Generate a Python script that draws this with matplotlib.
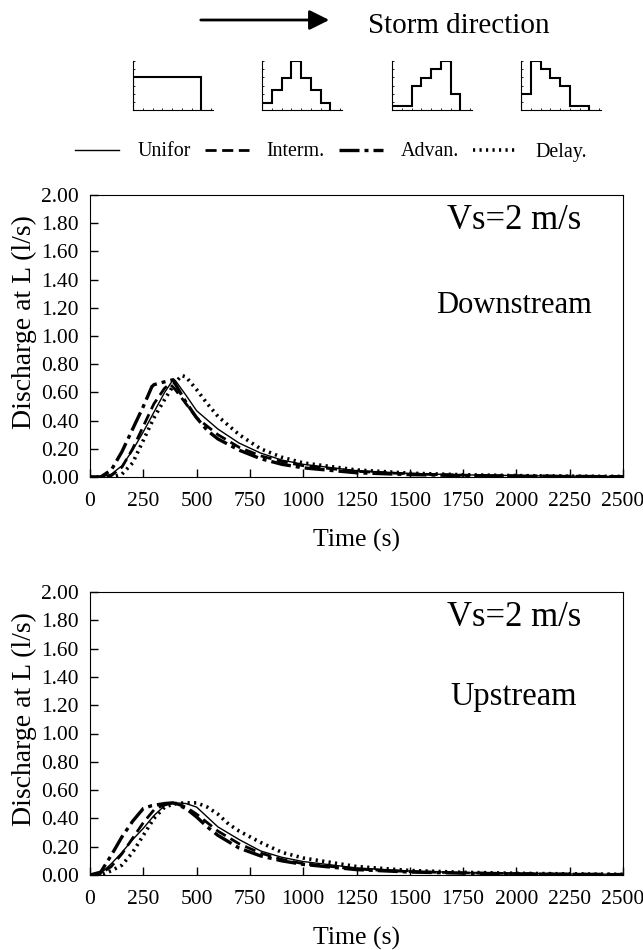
import matplotlib
matplotlib.use("Agg")
import matplotlib.pyplot as plt
import numpy as np

plt.rcParams['font.family'] = ['Liberation Serif', 'DejaVu Serif']

# hyetograph shapes shown in the header (7 intervals)
rain_uniform = [4.0, 4.0, 4.0, 4.0, 4.0, 4.0, 4.0]
rain_interm = [0.8, 2.5, 3.9, 6.0, 3.9, 2.5, 0.8]
rain_advan = [0.5, 0.5, 3.0, 3.9, 5.0, 6.0, 2.0]
rain_delay = [2.0, 6.0, 5.0, 3.9, 3.0, 0.5, 0.5]

labels = ["Unifor", "Interm.", "Advan.", "Delay."]

# downstream panel
t_dn_unif = [0, 50, 100, 150, 200, 250, 300, 350, 390, 400, 450, 500, 600, 700, 800, 900, 1000, 1250, 1500, 1750, 2000, 2250, 2500]
q_dn_unif = [0, 0, 0.02, 0.08, 0.19, 0.32, 0.46, 0.60, 0.69, 0.685, 0.58, 0.47, 0.34, 0.24, 0.17, 0.12, 0.09, 0.045, 0.025, 0.015, 0.01, 0.006, 0.004]
t_dn_int = [0, 50, 100, 150, 200, 250, 300, 350, 375, 400, 450, 500, 600, 700, 800, 900, 1000, 1250, 1500, 1750, 2000, 2250, 2500]
q_dn_int = [0, 0, 0.01, 0.07, 0.20, 0.36, 0.52, 0.63, 0.66, 0.62, 0.52, 0.42, 0.30, 0.21, 0.15, 0.11, 0.08, 0.04, 0.022, 0.013, 0.008, 0.005, 0.003]
t_dn_adv = [0, 50, 100, 150, 200, 250, 290, 300, 350, 390, 400, 450, 500, 550, 600, 700, 800, 900, 1000, 1250, 1500, 1750, 2000, 2250, 2500]
q_dn_adv = [0, 0, 0.05, 0.18, 0.34, 0.50, 0.64, 0.655, 0.675, 0.69, 0.66, 0.53, 0.42, 0.33, 0.27, 0.19, 0.13, 0.09, 0.065, 0.03, 0.017, 0.01, 0.006, 0.004, 0.002]
t_dn_del = [0, 50, 100, 150, 200, 250, 300, 350, 400, 430, 450, 500, 550, 600, 700, 800, 900, 1000, 1250, 1500, 1750, 2000, 2250, 2500]
q_dn_del = [0, 0, 0, 0.02, 0.10, 0.26, 0.42, 0.55, 0.67, 0.72, 0.71, 0.62, 0.52, 0.43, 0.30, 0.20, 0.14, 0.10, 0.05, 0.027, 0.016, 0.01, 0.006, 0.004]

# upstream panel
t_up_unif = [0, 50, 100, 150, 200, 250, 300, 350, 400, 450, 500, 550, 600, 700, 800, 900, 1000, 1250, 1500, 1750, 2000, 2250, 2500]
q_up_unif = [0, 0.01, 0.08, 0.16, 0.25, 0.33, 0.42, 0.49, 0.51, 0.505, 0.48, 0.41, 0.34, 0.25, 0.17, 0.125, 0.095, 0.05, 0.028, 0.017, 0.011, 0.007, 0.005]
t_up_int = [0, 50, 100, 150, 200, 250, 300, 350, 380, 400, 450, 500, 550, 600, 700, 800, 900, 1000, 1250, 1500, 1750, 2000, 2250, 2500]
q_up_int = [0, 0.01, 0.06, 0.15, 0.26, 0.37, 0.46, 0.50, 0.51, 0.505, 0.48, 0.43, 0.37, 0.31, 0.22, 0.155, 0.11, 0.08, 0.042, 0.024, 0.015, 0.01, 0.006, 0.004]
t_up_adv = [0, 50, 100, 150, 200, 250, 290, 350, 390, 450, 500, 550, 600, 700, 800, 900, 1000, 1250, 1500, 1750, 2000, 2250, 2500]
q_up_adv = [0, 0.02, 0.14, 0.27, 0.38, 0.47, 0.49, 0.505, 0.51, 0.47, 0.41, 0.34, 0.28, 0.19, 0.135, 0.10, 0.075, 0.038, 0.021, 0.013, 0.008, 0.005, 0.003]
t_up_del = [0, 50, 100, 150, 200, 250, 300, 350, 400, 450, 500, 550, 600, 650, 700, 800, 900, 1000, 1250, 1500, 1750, 2000, 2250, 2500]
q_up_del = [0, 0.0, 0.03, 0.07, 0.16, 0.28, 0.40, 0.48, 0.505, 0.51, 0.51, 0.48, 0.43, 0.36, 0.31, 0.23, 0.16, 0.12, 0.06, 0.032, 0.019, 0.012, 0.008, 0.005]

styles = [
    dict(color='k', lw=1.0, ls='-'),
    dict(color='k', lw=2.0, ls=(0, (4, 2))),
    dict(color='k', lw=2.4, ls=(0, (6, 1.5, 1.2, 1.5))),
    dict(color='k', lw=2.6, ls=(0, (0.6, 1.2))),
]

W, H = 643, 950
fig = plt.figure(figsize=(6.43, 9.5), dpi=100)

# header: arrow + text
fig.add_artist(matplotlib.patches.FancyArrowPatch(
    (198 / W, 1 - 20 / H), (332 / W, 1 - 20 / H), transform=fig.transFigure,
    arrowstyle='-|>', mutation_scale=30, lw=2, color='k'))
fig.text(368 / W, 1 - 26 / H, "Storm direction", fontsize=21, va='center', ha='left')

# hyetograph icons
for x0, rain in zip([133, 262, 392, 521], [rain_uniform, rain_interm, rain_advan, rain_delay]):
    iax = fig.add_axes([x0 / W, 1 - 110 / H, 80 / W, 49 / H])
    iax.stairs(rain, np.arange(len(rain) + 1), baseline=0, color='k', lw=1.5)
    iax.set_xlim(0, 8.2)
    iax.set_ylim(0, 6)
    iax.spines['top'].set_visible(False)
    iax.spines['right'].set_visible(False)
    iax.set_xticks(np.arange(1, 9))
    iax.set_yticks(np.arange(1, 7))
    iax.tick_params(direction='in', length=1.5, width=0.6, labelbottom=False, labelleft=False)


def panel(rect, series, label):
    ax = fig.add_axes(rect)
    lines = []
    for (t, q), st, lab in zip(series, styles, labels):
        ln, = ax.plot(t, q, label=lab, **st)
        lines.append(ln)
    ax.set_xlim(0, 2500)
    ax.set_ylim(0, 2.0)
    ax.set_xticks(np.arange(0, 2501, 250))
    ax.set_yticks(np.arange(0, 2.01, 0.2))
    ax.yaxis.set_major_formatter(matplotlib.ticker.FormatStrFormatter('%.2f'))
    ax.tick_params(direction='in', length=6, width=1, labelsize=15.5, pad=8)
    ax.tick_params(axis='x', pad=11)
    ax.set_xlabel("Time (s)", fontsize=18.5, labelpad=13)
    ax.set_ylabel("Discharge at L (l/s)", fontsize=20)
    ax.yaxis.set_label_coords(-0.10, 0.55)
    ax.text(0.795, 0.88, "Vs=2 m/s", transform=ax.transAxes, ha='center', va='baseline', fontsize=25)
    if label == "Downstream":
        ax.text(0.795, 0.58, label, transform=ax.transAxes, ha='center', va='baseline', fontsize=22)
    else:
        ax.text(0.795, 0.6, label, transform=ax.transAxes, ha='center', va='baseline', fontsize=23.5)
    return lines


lines = panel([90 / W, 1 - 477 / H, 533 / W, 282 / H],
              [(t_dn_unif, q_dn_unif), (t_dn_int, q_dn_int), (t_dn_adv, q_dn_adv), (t_dn_del, q_dn_del)],
              "Downstream")
panel([90 / W, 1 - 875 / H, 533 / W, 283 / H],
      [(t_up_unif, q_up_unif), (t_up_int, q_up_int), (t_up_adv, q_up_adv), (t_up_del, q_up_del)],
      "Upstream")

fig.legend(lines, labels, loc='center', bbox_to_anchor=(0.515, 1 - 152 / H), ncol=4, frameon=False,
           fontsize=14.4, handlelength=2.2, handletextpad=0.9, columnspacing=0.7)

fig.savefig("out.png", dpi=100)
